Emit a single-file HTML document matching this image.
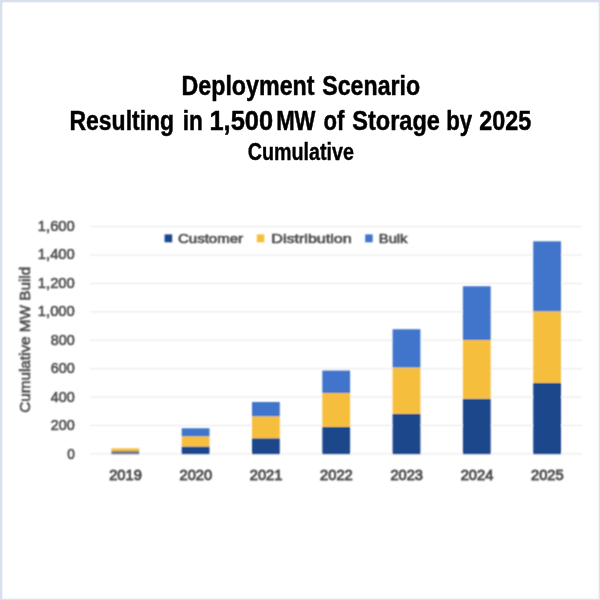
<!DOCTYPE html>
<html lang="en">
<head>
<meta charset="utf-8">
<title>Deployment Scenario</title>
<style>
html,body{margin:0;padding:0;background:#fff;}
body{width:600px;height:600px;overflow:hidden;font-family:"Liberation Sans",sans-serif;}
svg{display:block;}
.t{font-family:"Liberation Sans",sans-serif;font-weight:bold;fill:#000;}
.c{font-family:"Liberation Sans",sans-serif;fill:#505050;stroke:#505050;stroke-width:0.62px;}
</style>
</head>
<body>
<svg width="600" height="600" viewBox="0 0 600 600">
<defs>
<filter id="b1" x="-5%" y="-5%" width="110%" height="110%"><feConvolveMatrix order="3" kernelMatrix="1 2 1 2 4 2 1 2 1" divisor="16" edgeMode="duplicate" preserveAlpha="false"/></filter>
<filter id="b0" x="-5%" y="-5%" width="110%" height="110%"><feGaussianBlur stdDeviation="0.35"/></filter>
</defs>
<rect x="0" y="0" width="600" height="600" fill="#ffffff"/>
<!-- frame -->
<rect x="0" y="0" width="600" height="2.3" fill="#d8dfee"/>
<rect x="0" y="0" width="2.3" height="600" fill="#d8dfee"/>
<rect x="598.7" y="0" width="1.3" height="600" fill="#dbe2ef"/>
<rect x="0" y="598.7" width="600" height="1.3" fill="#dbe2ef"/>

<g filter="url(#b0)">
<text class="t" y="95.20" font-size="28.4" stroke="#000" stroke-width="0.5" stroke-linejoin="round"><tspan x="181.49" textLength="133.02" lengthAdjust="spacingAndGlyphs">Deployment</tspan> <tspan x="322.31" textLength="97.80" lengthAdjust="spacingAndGlyphs">Scenario</tspan></text>
<text class="t" y="130.00" font-size="28.4" stroke="#000" stroke-width="0.5" stroke-linejoin="round"><tspan x="69.51" textLength="104.60" lengthAdjust="spacingAndGlyphs">Resulting</tspan> <tspan x="182.82" textLength="20.11" lengthAdjust="spacingAndGlyphs">in</tspan> <tspan x="209.48" textLength="63.61" lengthAdjust="spacingAndGlyphs">1,500</tspan> <tspan x="276.16" textLength="39.37" lengthAdjust="spacingAndGlyphs">MW</tspan> <tspan x="323.52" textLength="20.86" lengthAdjust="spacingAndGlyphs">of</tspan> <tspan x="352.29" textLength="87.61" lengthAdjust="spacingAndGlyphs">Storage</tspan> <tspan x="446.15" textLength="26.01" lengthAdjust="spacingAndGlyphs">by</tspan> <tspan x="479.18" textLength="52.00" lengthAdjust="spacingAndGlyphs">2025</tspan></text>
<text class="t" y="159.80" font-size="23.5" stroke="#000" stroke-width="0.4" stroke-linejoin="round"><tspan x="247.71" textLength="106.23" lengthAdjust="spacingAndGlyphs">Cumulative</tspan></text>
</g>
<g filter="url(#b1)">
<rect x="90.3" y="453.20" width="491.7" height="1.3" fill="#ededed"/>
<rect x="90.3" y="424.81" width="491.7" height="1.3" fill="#ededed"/>
<rect x="90.3" y="396.41" width="491.7" height="1.3" fill="#ededed"/>
<rect x="90.3" y="368.02" width="491.7" height="1.3" fill="#ededed"/>
<rect x="90.3" y="339.63" width="491.7" height="1.3" fill="#ededed"/>
<rect x="90.3" y="311.23" width="491.7" height="1.3" fill="#ededed"/>
<rect x="90.3" y="282.84" width="491.7" height="1.3" fill="#ededed"/>
<rect x="90.3" y="254.44" width="491.7" height="1.3" fill="#ededed"/>
<rect x="90.3" y="226.05" width="491.7" height="1.3" fill="#ededed"/>
<text class="c" x="67.20" y="458.60" font-size="14.4" textLength="7.6" lengthAdjust="spacingAndGlyphs">0</text>
<text class="c" x="50.80" y="430.15" font-size="14.4" textLength="24.0" lengthAdjust="spacingAndGlyphs">200</text>
<text class="c" x="50.80" y="401.70" font-size="14.4" textLength="24.0" lengthAdjust="spacingAndGlyphs">400</text>
<text class="c" x="50.80" y="373.25" font-size="14.4" textLength="24.0" lengthAdjust="spacingAndGlyphs">600</text>
<text class="c" x="50.80" y="344.80" font-size="14.4" textLength="24.0" lengthAdjust="spacingAndGlyphs">800</text>
<text class="c" x="37.80" y="316.35" font-size="14.4" textLength="37.0" lengthAdjust="spacingAndGlyphs">1,000</text>
<text class="c" x="37.80" y="287.90" font-size="14.4" textLength="37.0" lengthAdjust="spacingAndGlyphs">1,200</text>
<text class="c" x="37.80" y="259.45" font-size="14.4" textLength="37.0" lengthAdjust="spacingAndGlyphs">1,400</text>
<text class="c" x="37.80" y="231.00" font-size="14.4" textLength="37.0" lengthAdjust="spacingAndGlyphs">1,600</text>
<text class="c" transform="translate(29.8 412.8) rotate(-90)" font-size="15" textLength="146" lengthAdjust="spacingAndGlyphs">Cumulative MW Build</text>
<rect x="111.40" y="448.3" width="27.8" height="2.7" fill="#f5bf3e"/>
<rect x="111.40" y="451.0" width="27.8" height="3.3" fill="#7d7a8a"/>
<text class="c" x="109.20" y="480" font-size="14.4" textLength="32.6" lengthAdjust="spacingAndGlyphs" style="stroke-width:0.9px">2019</text>
<rect x="181.70" y="446.50" width="27.8" height="7.70" fill="#1a478b"/>
<rect x="181.70" y="436.25" width="27.8" height="10.25" fill="#f5bf3e"/>
<rect x="181.70" y="428.25" width="27.8" height="8.00" fill="#4175cb"/>
<text class="c" x="179.50" y="480" font-size="14.4" textLength="32.6" lengthAdjust="spacingAndGlyphs" style="stroke-width:0.9px">2020</text>
<rect x="252.00" y="438.25" width="27.8" height="15.95" fill="#1a478b"/>
<rect x="252.00" y="416.25" width="27.8" height="22.00" fill="#f5bf3e"/>
<rect x="252.00" y="402.00" width="27.8" height="14.25" fill="#4175cb"/>
<text class="c" x="249.80" y="480" font-size="14.4" textLength="32.6" lengthAdjust="spacingAndGlyphs" style="stroke-width:0.9px">2021</text>
<rect x="322.30" y="427.00" width="27.8" height="27.20" fill="#1a478b"/>
<rect x="322.30" y="393.00" width="27.8" height="34.00" fill="#f5bf3e"/>
<rect x="322.30" y="370.50" width="27.8" height="22.50" fill="#4175cb"/>
<text class="c" x="320.10" y="480" font-size="14.4" textLength="32.6" lengthAdjust="spacingAndGlyphs" style="stroke-width:0.9px">2022</text>
<rect x="392.60" y="413.75" width="27.8" height="40.45" fill="#1a478b"/>
<rect x="392.60" y="367.50" width="27.8" height="46.25" fill="#f5bf3e"/>
<rect x="392.60" y="329.25" width="27.8" height="38.25" fill="#4175cb"/>
<text class="c" x="390.40" y="480" font-size="14.4" textLength="32.6" lengthAdjust="spacingAndGlyphs" style="stroke-width:0.9px">2023</text>
<rect x="462.90" y="398.75" width="27.8" height="55.45" fill="#1a478b"/>
<rect x="462.90" y="340.00" width="27.8" height="58.75" fill="#f5bf3e"/>
<rect x="462.90" y="286.25" width="27.8" height="53.75" fill="#4175cb"/>
<text class="c" x="460.70" y="480" font-size="14.4" textLength="32.6" lengthAdjust="spacingAndGlyphs" style="stroke-width:0.9px">2024</text>
<rect x="533.20" y="383.00" width="27.8" height="71.20" fill="#1a478b"/>
<rect x="533.20" y="311.30" width="27.8" height="71.70" fill="#f5bf3e"/>
<rect x="533.20" y="241.30" width="27.8" height="70.00" fill="#4175cb"/>
<text class="c" x="531.00" y="480" font-size="14.4" textLength="32.6" lengthAdjust="spacingAndGlyphs" style="stroke-width:0.9px">2025</text>
<rect x="164.6" y="234.4" width="7.6" height="7.9" fill="#1a478b"/>
<text class="c" x="178" y="243.3" font-size="13.4" style="stroke-width:0.66px" textLength="65" lengthAdjust="spacingAndGlyphs">Customer</text>
<rect x="256.8" y="234.4" width="7.5" height="7.9" fill="#f5bf3e"/>
<text class="c" x="271.3" y="243.3" font-size="13.4" style="stroke-width:0.66px" textLength="80.4" lengthAdjust="spacingAndGlyphs">Distribution</text>
<rect x="365.2" y="234.4" width="7.5" height="7.9" fill="#4175cb"/>
<text class="c" x="378.8" y="243.3" font-size="13.4" style="stroke-width:0.66px" textLength="28.7" lengthAdjust="spacingAndGlyphs">Bulk</text>
</g>
</svg>
</body>
</html>
